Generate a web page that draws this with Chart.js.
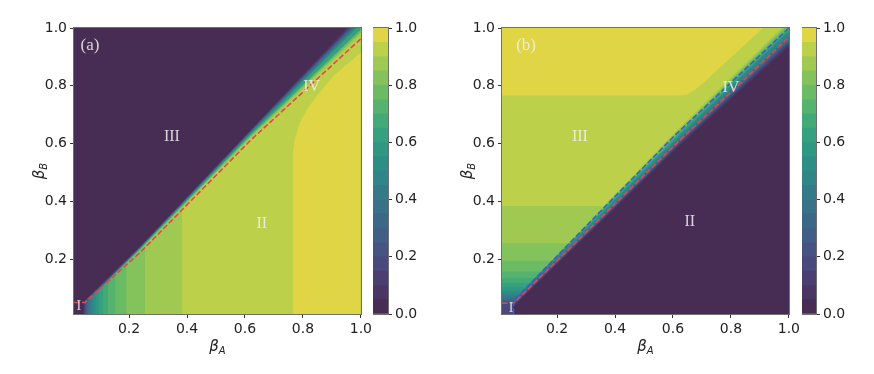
<!DOCTYPE html>
<html>
<head>
<meta charset="utf-8">
<script src="https://cdn.jsdelivr.net/npm/chart.js@4.4.1/dist/chart.umd.min.js"></script>
<style>
  html, body { margin: 0; padding: 0; background: #fff; }
  #wrap { position: relative; width: 874px; height: 374px; overflow: hidden; }
  canvas { position: absolute; top: 0; }
</style>
</head>
<body>
<div id="wrap">
  <canvas id="panelA" width="375" height="374" style="left:0px"></canvas>
  <canvas id="cbarA" width="60" height="374" style="left:373px"></canvas>
  <canvas id="panelB" width="375" height="374" style="left:428px"></canvas>
  <canvas id="cbarB" width="72" height="374" style="left:802px"></canvas>
</div>
<script>
// contour levels (20 filled bands) and their colours
const levels = [0, 0.05, 0.1, 0.15, 0.2, 0.25, 0.3, 0.35, 0.4, 0.45, 0.5,
                0.55, 0.6, 0.65, 0.7, 0.75, 0.8, 0.85, 0.9, 0.95, 1.0];
const levelColors = ["#472c54", "#4a3564", "#4b3f72", "#49497c", "#465482",
                     "#415e86", "#3c6888", "#377289", "#337b89", "#2f8588",
                     "#2d8e86", "#2e9883", "#35a17e", "#42aa77", "#55b36f",
                     "#6bbb65", "#84c25b", "#9fc951", "#bdd04a", "#dfd545"];
const axisTicks = [0.2, 0.4, 0.6, 0.8, 1.0];
const cbarTicks = [0.0, 0.2, 0.4, 0.6, 0.8, 1.0];

// panel (a): beta_A where each level (0..18) of region II begins
const bandStartA = [0.040, 0.042, 0.044, 0.046, 0.048, 0.051, 0.054, 0.058, 0.063, 0.069,
                    0.076, 0.084, 0.095, 0.109, 0.127, 0.152, 0.190, 0.255, 0.383];
// edge of the top level (yellow)
const yellowEdgeA = [[0.765, 0.01], [0.765, 0.56], [0.772, 0.615], [0.789, 0.672], [0.815, 0.72],
                     [0.847, 0.764], [0.904, 0.833], [1.0, 0.915]];
// thin contour lines along the diagonal (colour above each line)
const stripLevelsA = [17, 15, 12, 9, 6, 3, 1, 0];
const stripLinesA = [
    [[0.255, 0.245], [0.62, 0.618], [1.0, 0.975]],
    [[0.152, 0.147], [0.24, 0.233], [0.62, 0.624], [1.0, 0.985]],
    [[0.095, 0.093], [0.24, 0.237], [0.62, 0.630], [1.0, 0.995]],
    [[0.069, 0.068], [0.24, 0.240], [0.62, 0.635], [0.985, 1.0], [1.0, 1.0]],
    [[0.054, 0.054], [0.24, 0.242], [0.62, 0.640], [0.975, 1.0], [1.0, 1.0]],
    [[0.046, 0.050], [0.24, 0.244], [0.62, 0.644], [0.965, 1.0], [1.0, 1.0]],
    [[0.042, 0.052], [0.24, 0.245], [0.62, 0.646], [0.958, 1.0], [1.0, 1.0]],
    [[0.01, 0.055], [0.045, 0.055], [0.24, 0.246], [0.62, 0.648], [0.95, 1.0], [1.0, 1.0]]
];
const redLineA = [[0.01, 0.05], [0.048, 0.05], [0.24, 0.225], [0.62, 0.612], [1.0, 0.963]];
const labelsA = [["(a)", 0.065, 0.94, 17], ["III", 0.348, 0.623, 16], ["II", 0.658, 0.322, 16],
                 ["IV", 0.83, 0.796, 16], ["I", 0.027, 0.038, 14]];

// panel (b): beta_B where each level (0..18) of region III begins
const bandStartB = [0.040, 0.042, 0.044, 0.046, 0.049, 0.052, 0.056, 0.061, 0.067, 0.074,
                    0.082, 0.091, 0.103, 0.117, 0.134, 0.157, 0.194, 0.255, 0.384];
const yellowEdgeB = [[0.01, 0.766], [0.62, 0.766], [0.647, 0.768], [0.675, 0.785], [0.704, 0.809],
                     [0.8, 0.898], [0.911, 1.0]];
// colour below each line
const stripLevelsB = [17, 15, 12, 9, 6, 3, 1, 0];
const stripLinesB = [
    [[0.24, 0.255], [0.33, 0.352], [0.62, 0.652], [0.975, 1.0], [1.0, 1.0]],
    [[0.145, 0.157], [0.33, 0.348], [0.62, 0.645], [0.985, 1.0], [1.0, 1.0]],
    [[0.09, 0.103], [0.33, 0.343], [0.62, 0.636], [1.0, 1.0]],
    [[0.063, 0.074], [0.33, 0.335], [0.62, 0.626], [1.0, 0.99]],
    [[0.05, 0.056], [0.33, 0.325], [0.62, 0.614], [1.0, 0.972]],
    [[0.05, 0.046], [0.33, 0.316], [0.62, 0.602], [1.0, 0.955]],
    [[0.05, 0.040], [0.33, 0.311], [0.62, 0.596], [1.0, 0.945]],
    [[0.05, 0.036], [0.33, 0.307], [0.62, 0.590], [1.0, 0.935]]
];
const regionIB = [[0.01, 0.047], [0.05, 0.047]];
const redLineB = [[0.01, 0.047], [0.05, 0.047], [0.33, 0.322], [0.624, 0.612], [1.0, 0.968]];
const blueLineB = [[0.05, 0.01], [0.05, 0.055], [0.33, 0.345], [0.6, 0.622], [1.0, 1.0]];
const labelsB = [["(b)", 0.093, 0.94, 17], ["III", 0.279, 0.623, 16], ["II", 0.658, 0.329, 16],
                 ["IV", 0.8, 0.792, 16], ["I", 0.041, 0.031, 14]];

Chart.defaults.font.family = "'DejaVu Sans', sans-serif";
Chart.defaults.font.size = 14;
Chart.defaults.color = "#222";

function toXY(points) {
    return points.map(p => ({ x: p[0], y: p[1] }));
}

// filled area under/over a polyline
function area(points, color, fill) {
    return {
        data: toXY(points),
        backgroundColor: color,
        borderColor: "rgba(0,0,0,0)",
        borderWidth: 0,
        pointRadius: 0,
        tension: 0,
        fill: fill
    };
}

function dashed(points, color) {
    return {
        data: toXY(points),
        borderColor: color,
        borderWidth: 1.6,
        borderDash: [5.5, 2.4],
        pointRadius: 0,
        tension: 0,
        fill: false
    };
}

// first dataset in the list is painted first (bottom)
function paintOrder(list) {
    list.forEach((d, i) => { d.order = list.length - i; });
    return list;
}

const frame = {
    id: "frame",
    afterDraw(chart) {
        const a = chart.chartArea;
        const ctx = chart.ctx;
        ctx.save();
        ctx.strokeStyle = "#6f6f6f";
        ctx.lineWidth = 1;
        ctx.strokeRect(Math.round(a.left) - 0.5, Math.round(a.top) - 0.5,
                       Math.round(a.right - a.left) + 1, Math.round(a.bottom - a.top) + 1);
        ctx.restore();
    }
};

function drawBeta(ctx, x, y, sub) {
    ctx.font = "italic 15px 'DejaVu Sans'";
    const w1 = ctx.measureText("β").width;
    ctx.font = "italic 10px 'DejaVu Sans'";
    const w2 = ctx.measureText(sub).width;
    const x0 = x - (w1 + w2) / 2;
    ctx.textAlign = "left";
    ctx.textBaseline = "alphabetic";
    ctx.font = "italic 15px 'DejaVu Sans'";
    ctx.fillText("β", x0, y);
    ctx.font = "italic 10px 'DejaVu Sans'";
    ctx.fillText(sub, x0 + w1, y + 3);
}

const axisTitles = {
    id: "axisTitles",
    afterDraw(chart) {
        const a = chart.chartArea;
        const ctx = chart.ctx;
        ctx.save();
        ctx.fillStyle = "#222";
        drawBeta(ctx, (a.left + a.right) / 2, a.bottom + 37, "A");
        ctx.translate(a.left - 30, (a.top + a.bottom) / 2);
        ctx.rotate(-Math.PI / 2);
        drawBeta(ctx, 0, 0, "B");
        ctx.restore();
    }
};

const regionLabels = {
    id: "regionLabels",
    afterDatasetsDraw(chart, args, opts) {
        const ctx = chart.ctx;
        const sx = chart.scales.x, sy = chart.scales.y;
        ctx.save();
        ctx.fillStyle = "rgba(240,240,240,0.85)";
        ctx.textAlign = "center";
        ctx.textBaseline = "middle";
        (opts.items || []).forEach(item => {
            ctx.font = item[3] + "px 'Liberation Serif', serif";
            ctx.fillText(item[0], sx.getPixelForValue(item[1]), sy.getPixelForValue(item[2]));
        });
        ctx.restore();
    }
};

function axis(size, isX) {
    return {
        type: "linear",
        min: 0.01,
        max: 1.0,
        afterBuildTicks: s => { s.ticks = axisTicks.map(v => ({ value: v })); },
        afterFit: s => { if (isX) { s.height = size; } else { s.width = size; } },
        ticks: { callback: v => Number(v).toFixed(1), padding: 3, autoSkip: false, maxRotation: 0 },
        grid: { drawOnChartArea: false, drawTicks: true, tickLength: 4, color: "#333" },
        border: { display: false }
    };
}

function panel(id, datasets, labels) {
    new Chart(document.getElementById(id), {
        type: "line",
        data: { datasets: paintOrder(datasets) },
        options: {
            responsive: false,
            animation: false,
            events: [],
            layout: { padding: { top: 28, right: 14, bottom: 0, left: 0 } },
            scales: { x: axis(60, true), y: axis(74, false) },
            plugins: {
                legend: { display: false },
                tooltip: { enabled: false },
                regionLabels: { items: labels }
            }
        },
        plugins: [regionLabels, frame, axisTitles]
    });
}

function colorbar(id, axisWidth) {
    const sets = levelColors.map((c, i) => ({
        data: [[levels[i], levels[i + 1]]],
        backgroundColor: c,
        borderWidth: 0,
        grouped: false,
        barPercentage: 1,
        categoryPercentage: 1
    }));
    new Chart(document.getElementById(id), {
        type: "bar",
        data: { labels: [""], datasets: sets },
        options: {
            responsive: false,
            animation: false,
            events: [],
            layout: { padding: { top: 28, right: 0, bottom: 60, left: 0 } },
            scales: {
                x: { display: false },
                y: {
                    position: "right",
                    min: 0,
                    max: 1,
                    afterBuildTicks: s => { s.ticks = cbarTicks.map(v => ({ value: v })); },
                    afterFit: s => { s.width = axisWidth; },
                    ticks: { callback: v => Number(v).toFixed(1), padding: 3 },
                    grid: { drawOnChartArea: false, drawTicks: true, tickLength: 4, color: "#333" },
                    border: { display: false }
                }
            },
            plugins: { legend: { display: false }, tooltip: { enabled: false } }
        },
        plugins: [frame]
    });
}

// ---- panel (a) ----
const setsA = [area([[0.01, 1.0], [1.0, 1.0]], levelColors[0], "start")];
bandStartA.forEach((x0, lvl) => {
    setsA.push(area([[x0, 1.0], [1.0, 1.0]], levelColors[lvl], "start"));
});
setsA.push(area(yellowEdgeA, levelColors[19], "start"));
stripLinesA.forEach((pts, i) => {
    setsA.push(area(pts, levelColors[stripLevelsA[i]], "end"));
});
setsA.push(dashed(redLineA, "#e8454d"));
panel("panelA", setsA, labelsA);

// ---- panel (b) ----
const setsB = [area([[0.01, 1.0], [1.0, 1.0]], levelColors[0], "start")];
bandStartB.forEach((y0, lvl) => {
    setsB.push(area([[0.01, y0], [1.0, y0]], levelColors[lvl], "end"));
});
setsB.push(area(yellowEdgeB, levelColors[19], "end"));
stripLinesB.forEach((pts, i) => {
    setsB.push(area(pts, levelColors[stripLevelsB[i]], "start"));
});
setsB.push(area(regionIB, levelColors[3], "start"));
setsB.push(dashed(redLineB, "#e8454d"));
setsB.push(dashed(blueLineB, "#3b5fcf"));
panel("panelB", setsB, labelsB);

colorbar("cbarA", 45);
colorbar("cbarB", 58);
</script>
</body>
</html>
